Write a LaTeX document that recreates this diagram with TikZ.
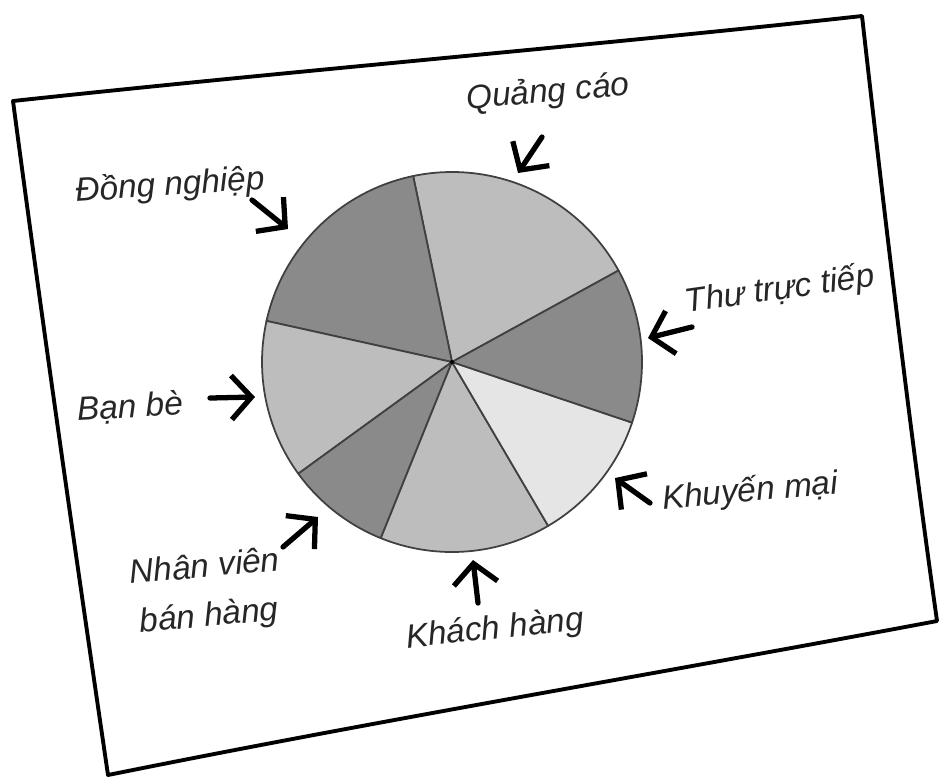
\documentclass[tikz,border=0pt]{standalone}
\usepackage{fontspec}
\setmainfont{Liberation Sans}
\usepackage{tikz}
\usetikzlibrary{arrows.meta}
\tikzset{arr/.style = {line width=1.5pt, line cap=round,
                       -{Straight Barb[length=2mm, width=4.4mm, line width=1.5pt]}},
         lbl/.style = {font=\fontsize{9.5}{12}\selectfont\itshape, text=black!85, inner sep=1pt}}
\definecolor{lgray}{rgb}{0.74, 0.74, 0.74}
\definecolor{dgray}{rgb}{0.54, 0.54, 0.54}
\definecolor{xgray}{rgb}{0.90, 0.90, 0.90}

\begin{document}
\begin{tikzpicture}
      \useasboundingbox (0, 0) rectangle (9.39, -7.76);

      % the sheet of paper
      \coordinate (tl) at (0.13, -1.01);
      \coordinate (tr) at (8.62, -0.16);
      \coordinate (br) at (9.37, -6.21);
      \coordinate (bl) at (1.08, -7.75);
      \draw [line width=1.1pt, line join=round] (tl) .. controls (3, -0.70) and (6, -0.45) .. (tr)
            .. controls (8.85, -2.2) and (9.1, -4.3) .. (br)
            .. controls (6.5, -6.75) and (3.8, -7.2) .. (bl)
            .. controls (0.75, -5.5) and (0.42, -3.2) .. cycle;

      % the pie
      \coordinate (c) at (4.52, -3.62);
      \foreach \a/\b/\col in {28.8/101.8/lgray, 101.8/167.5/dgray, 167.5/216/lgray, 216/248/dgray,
                              248/300.4/lgray, 300.4/341.4/xgray, 341.4/388.8/dgray}
        \filldraw [fill=\col, draw=black!75, line width=0.5pt, line join=round]
              (c) -- ++(\a:1.9) arc [start angle=\a, end angle=\b, radius=1.9] -- cycle;
      \fill [black] (c) circle (0.02);

      % labels
      \node [lbl, rotate=4] (dong) at (1.70, -1.86) {Đồng nghiệp};
      \node [lbl, rotate=5] (quang) at (5.48, -0.93) {Quảng cáo};
      \node [lbl, rotate=8] (thu) at (7.80, -2.90) {Thư trực tiếp};
      \node [lbl, rotate=5] (khuyen) at (7.50, -4.92) {Khuyến mại};
      \node [lbl, rotate=6] (khach) at (4.95, -6.30) {Khách hàng};
      \node [lbl, rotate=5, align=center] (nhan) at (2.07, -5.93) {Nhân viên\\[2pt]bán hàng};
      \node [lbl, rotate=3] (ban) at (1.30, -4.08) {Bạn bè};

      % arrows
      \coordinate (dong-t) at (2.52, -2.00);   \coordinate (dong-h) at (2.88, -2.29);
      \coordinate (quang-t) at (5.42, -1.37);  \coordinate (quang-h) at (5.18, -1.73);
      \coordinate (thu-t) at (6.92, -3.27);    \coordinate (thu-h) at (6.48, -3.38);
      \coordinate (khuyen-t) at (6.50, -5.03); \coordinate (khuyen-h) at (6.15, -4.78);
      \coordinate (khach-t) at (4.78, -6.03);  \coordinate (khach-h) at (4.73, -5.60);
      \coordinate (nhan-t) at (2.83, -5.47);   \coordinate (nhan-h) at (3.18, -5.17);
      \coordinate (ban-t) at (2.10, -3.98);    \coordinate (ban-h) at (2.55, -3.97);
      \foreach \n in {dong, quang, thu, khuyen, khach, nhan, ban}
        \draw [arr] (\n-t) -- (\n-h);
\end{tikzpicture}
\end{document}
